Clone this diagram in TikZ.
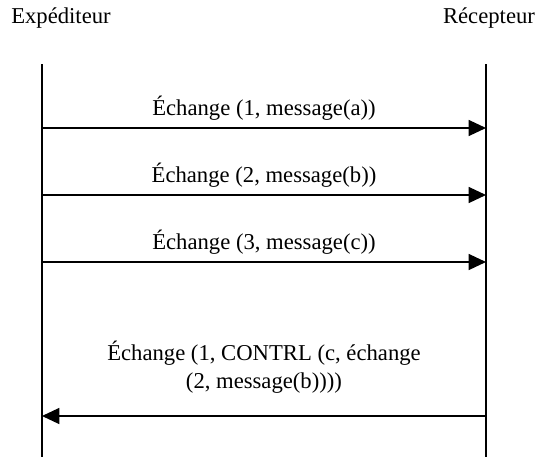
\documentclass[tikz,border=0pt]{standalone}
\usepackage{fontspec}
\setmainfont{Liberation Serif}
\usetikzlibrary{arrows.meta}
\begin{document}
\begin{tikzpicture}[x=0.75pt,y=-0.75pt,
  lbl/.style={font=\fontsize{17}{21}\selectfont, inner sep=0pt, align=center},
  lifeline/.style={line width=1pt},
  msg/.style={line width=1pt, -{Triangle[length=13pt,width=12pt]}}]
\useasboundingbox (0,0) rectangle (536,457);
\node[lbl] (snd) at (61,18) {Expéditeur};
\node[lbl] (rcv) at (489,18) {Récepteur};
\coordinate (lt) at (42,64);
\coordinate (lb) at (42,457);
\coordinate (rt) at (486,64);
\coordinate (rb) at (486,457);
\draw[lifeline] (lt) -- (lb);
\draw[lifeline] (rt) -- (rb);
\coordinate (a1) at (42,128); \coordinate (b1) at (486,128);
\coordinate (a2) at (42,195); \coordinate (b2) at (486,195);
\coordinate (a3) at (42,262); \coordinate (b3) at (486,262);
\coordinate (a4) at (42,416); \coordinate (b4) at (486,416);
\draw[msg] (a1) -- (b1);
\draw[msg] (a2) -- (b2);
\draw[msg] (a3) -- (b3);
\draw[msg] (b4) -- (a4);
\node[lbl] (m1) at (264,108) {Échange (1, message(a))};
\node[lbl] (m2) at (264,175) {Échange (2, message(b))};
\node[lbl] (m3) at (264,242) {Échange (3, message(c))};
\node[lbl] (m4) at (264,367) {Échange (1, CONTRL (c, échange\\(2, message(b))))};
\end{tikzpicture}
\end{document}
